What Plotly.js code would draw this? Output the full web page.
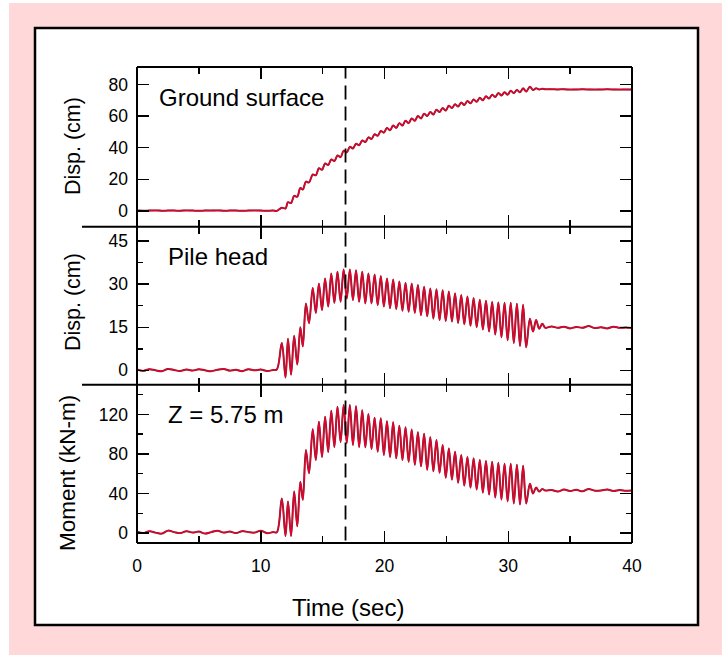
<!DOCTYPE html>
<html><head><meta charset="utf-8">
<script src="https://cdn.plot.ly/plotly-3.0.1.min.js"></script>
<style>html,body{margin:0;padding:0;background:#fff;} #chart{width:722px;height:655px;}</style>
</head><body><div id="chart"></div>
<script>
// ---------- DATA ----------
const timePre = [0,0.5,1,1.5,2,2.5,3,3.5,4,4.5,5,5.5,6,6.5,7,7.5,8,8.5,9,9.5,10,10.5,11];
const timeEvent = [11.3,11.7,12.0,12.2,12.45,12.7,12.95,13.2,13.4,13.65,13.9,14.2,14.45,14.7,14.95,
  15.2,15.45,15.7,15.95,16.2,16.45,16.7,16.95,17.2,17.45,17.7,17.95,18.2,18.45,18.7,18.95,
  19.2,19.45,19.7,19.95,20.2,20.45,20.7,20.95,21.2,21.45,21.7,21.95,22.2,22.45,22.7,22.95,
  23.2,23.45,23.7,23.95,24.2,24.45,24.7,24.95,25.2,25.45,25.7,25.95,26.2,26.45,26.7,26.95,
  27.2,27.45,27.7,27.95,28.2,28.45,28.7,28.95,29.2,29.45,29.7,29.95,30.2,30.45,30.7,30.95,
  31.2,31.45,31.75,32.0,32.25,32.5,32.75,33.0];
const timePost = [33.5,34,34.5,35,35.5,36,36.5,37,37.5,38,38.5,39,39.5,40];

// Ground surface displacement (cm)
const groundPre = [0.2,0.1,0.2,0.3,0.1,0.2,0.2,0.1,0.3,0.2,0.1,0.2,0.2,0.3,0.1,0.2,0.2,0.1,0.2,0.3,0.2,0.1,0.2];
const groundEvent = [0,2,1.5,5.5,5,9.5,9,14.5,13.5,18.5,18,23,22.5,27,26,
  30,29,32.5,31.5,35,34,38,37,40.5,39.5,42.5,41.5,44.5,43.5,46.5,45.5,
  48.5,47.5,50.5,49.5,52.5,51,54,52.5,55.5,54,57,55.5,58.5,57,60,58.5,
  61.5,60,62.5,61,64,62.5,65,63.5,66.5,65,67.5,66,68.5,67,69.5,68,
  70.5,69,71.5,70,72.5,71,73.5,72,74.5,73,75,73.5,76,74.5,76.5,75,
  77.5,75.5,78.5,76.5,77.5,76.8,77.2,76.9];
const groundPost = [76.9,76.8,76.9,76.7,76.8,76.9,76.8,76.7,76.8,76.9,76.8,76.7,76.8,76.8];

// Pile head displacement (cm)
const pilePre = [0.3,-0.2,0.4,0,-0.3,0.5,0.1,-0.2,0.3,-0.1,0.4,0,-0.3,0.2,0.5,-0.1,0.2,-0.3,0.4,0,0.3,-0.2,0.1];
const pileEvent = [0.3,9.5,-2.5,11,-1.5,12,2,15,8.3,23.3,16.4,28.7,20,30.2,21,
  32,22.2,33.7,23.5,34.3,23.9,35.1,25,35.1,24.5,34.8,23.9,34.3,23.3,33.7,23.3,
  33.4,22.7,32.8,22.2,32,21.6,31.6,21.3,30.9,20.7,30.5,20.4,30.2,20,29.7,19.2,
  29.1,18.8,28.5,18,28.2,17.5,27.9,17.2,27.4,17,26.8,16.5,26.2,16,25.7,15.5,
  25.2,15,24.6,14.2,24.2,13.5,23.8,12.5,23.6,11.5,23.5,10.5,23.5,9.5,23.2,8.5,
  22.8,8,18,13.5,17.5,14.5,16.2,14.8];
const pilePost = [15.3,14.8,15.2,14.6,15.1,14.8,15.4,14.7,15,14.6,15.2,14.8,14.9,14.7];

// Bending moment at Z = 5.75 m (kN-m)
const momentPre = [1.5,0,2,0.5,-0.5,2.5,1,0,2,0.5,1.5,-0.5,1,2.5,0.5,1.5,0,2,1,0.5,2.5,0,1];
const momentEvent = [0.8,35,-3,32,-3,42,7,52,33.6,84,60.5,105,74,112.5,77,
  117.6,82,123.6,87,127.7,92,129.4,91,129.4,89,128.3,87,124.3,86.7,120.3,85,
  116.6,82.3,116,79,113,77,112,75.6,108.6,73.9,107,72,104.6,69,102,67.5,
  100.5,64,97,62.5,94,61,89,56,85.6,54,82.3,51,79,48,77,46,
  75.6,44,74,41,73,39,72,36,71,34,70,32,70,30,69,29,
  68,30,50,40,46,42,44.5,43];
const momentPost = [43.5,42,44,42.5,43.8,42.2,44.5,42.8,43,44,42.5,43.5,42.8,43.2];

const xTicksMajor = 10, xTicksMinor = 5;
const eventTime = 16.85;

// ---------- LAYOUT ----------
const L=137, R=632, T=67, B=543;
const px2x = p => (p-L)/(R-L);
const py2y = p => (B-p)/(B-T);
const b1 = py2y(226.7), b2 = py2y(384.7);
const FONT = 'Liberation Sans, Arial, Helvetica, sans-serif';
const DARK = 'rgb(110,45,60)', RED = 'rgb(230,0,42)';

const tAll = timePre.concat(timeEvent, timePost);
function pair(vals, xa, ya){
  return [
    {x:tAll, y:vals, xaxis:xa, yaxis:ya, mode:'lines', line:{color:DARK, width:2.0, shape:'spline', smoothing:1}, showlegend:false, hoverinfo:'skip'},
    {x:tAll, y:vals, xaxis:xa, yaxis:ya, mode:'lines', line:{color:RED, width:1.4, shape:'spline', smoothing:1}, showlegend:false, hoverinfo:'skip'}
  ];
}
const data = [].concat(
  pair(groundPre.concat(groundEvent, groundPost), 'x', 'y'),
  pair(pilePre.concat(pileEvent, pilePost), 'x2', 'y2'),
  pair(momentPre.concat(momentEvent, momentPost), 'x3', 'y3')
);

function xAxis(showLabels, anchor){
  return {range:[0,40], domain:[0,1], anchor:anchor, showline:false,
    mirror:'ticks', ticks:'inside', ticklen:12, tickwidth:1.5, tickcolor:'#000',
    tick0:0, dtick:xTicksMajor, showticklabels:showLabels, showgrid:false, zeroline:false,
    ticklabelstandoff:10,
    minor:{dtick:xTicksMinor, tick0:0, ticklen:7, tickwidth:1.5, tickcolor:'#000', ticks:'inside', showgrid:false},
    tickfont:{family:FONT, size:17.5, color:'#000'}, fixedrange:true};
}
function yAxis(domain, range, dtick, minorDtick, anchor){
  const a = {domain:domain, range:range, anchor:anchor, showline:false,
    mirror:'ticks', ticks:'inside', ticklen:12, tickwidth:1.5, tickcolor:'#000',
    tick0:0, dtick:dtick, showgrid:false, zeroline:false, ticklabelstandoff:8,
    tickfont:{family:FONT, size:17.5, color:'#000'}, fixedrange:true};
  if (minorDtick) a.minor = {dtick:minorDtick, tick0:0, ticklen:6, tickwidth:1.5, tickcolor:'#000', ticks:'inside', showgrid:false};
  return a;
}

const ann = (text, x, y, opts) => Object.assign({text:text, x:x, y:y, xref:'paper', yref:'paper', showarrow:false,
  font:{family:FONT, size:24, color:'#000'}, xanchor:'left', yanchor:'middle'}, opts||{});
const frame = (x0, x1, y0, y1) => ({type:'line', xref:'paper', yref:'paper', x0:x0, x1:x1, y0:y0, y1:y1,
  line:{color:'#000', width:2}});

const layout = {
  width:722, height:655,
  margin:{l:L, r:722-R, t:T, b:655-B},
  paper_bgcolor:'#fff', plot_bgcolor:'rgba(0,0,0,0)',
  showlegend:false,
  xaxis: xAxis(false, 'y'),
  xaxis2: xAxis(false, 'y2'),
  xaxis3: xAxis(true, 'y3'),
  yaxis: yAxis([b1,1], [-10,91], 20, null, 'x'),
  yaxis2: yAxis([b2,b1], [-5,50], 15, 7.5, 'x2'),
  yaxis3: yAxis([0,b2], [-10,150], 40, 20, 'x3'),
  shapes:[
    {type:'rect', xref:'paper', yref:'paper', x0:px2x(9), x1:px2x(730), y0:py2y(3), y1:py2y(660),
      fillcolor:'rgb(255,217,217)', line:{width:0}, layer:'below'},
    {type:'rect', xref:'paper', yref:'paper', x0:px2x(35), x1:px2x(698), y0:py2y(28), y1:py2y(625),
      fillcolor:'#fff', line:{color:'#000', width:2.5}, layer:'below'},
    frame(0, 0, 0, 1),
    frame(1, 1, 0, 1),
    frame(0, 1, 1, 1),
    frame(0, 1, 0, 0),
    frame(px2x(82), 1, b1, b1),
    frame(px2x(82), 1, b2, b2),
    {type:'line', xref:'x3', yref:'paper', x0:eventTime, x1:eventTime, y0:0.005, y1:1,
      line:{color:'#000', width:1.8, dash:'14px,7px'}}
  ],
  annotations:[
    ann('Ground surface', px2x(157), py2y(97)),
    ann('Pile head', px2x(166), py2y(256)),
    ann('Z = 5.75 m', px2x(166), py2y(414)),
    ann('Time (sec)', px2x(348), py2y(607), {xanchor:'center'}),
    ann('Disp. (cm)', px2x(73), py2y(146), {xanchor:'center', textangle:-90, font:{family:FONT, size:21.5, color:'#000'}}),
    ann('Disp. (cm)', px2x(73), py2y(302), {xanchor:'center', textangle:-90, font:{family:FONT, size:21.5, color:'#000'}}),
    ann('Moment (kN-m)', px2x(67), py2y(473), {xanchor:'center', textangle:-90, font:{family:FONT, size:22.5, color:'#000'}})
  ]
};

Plotly.newPlot('chart', data, layout, {staticPlot:true, displayModeBar:false});
</script></body></html>
